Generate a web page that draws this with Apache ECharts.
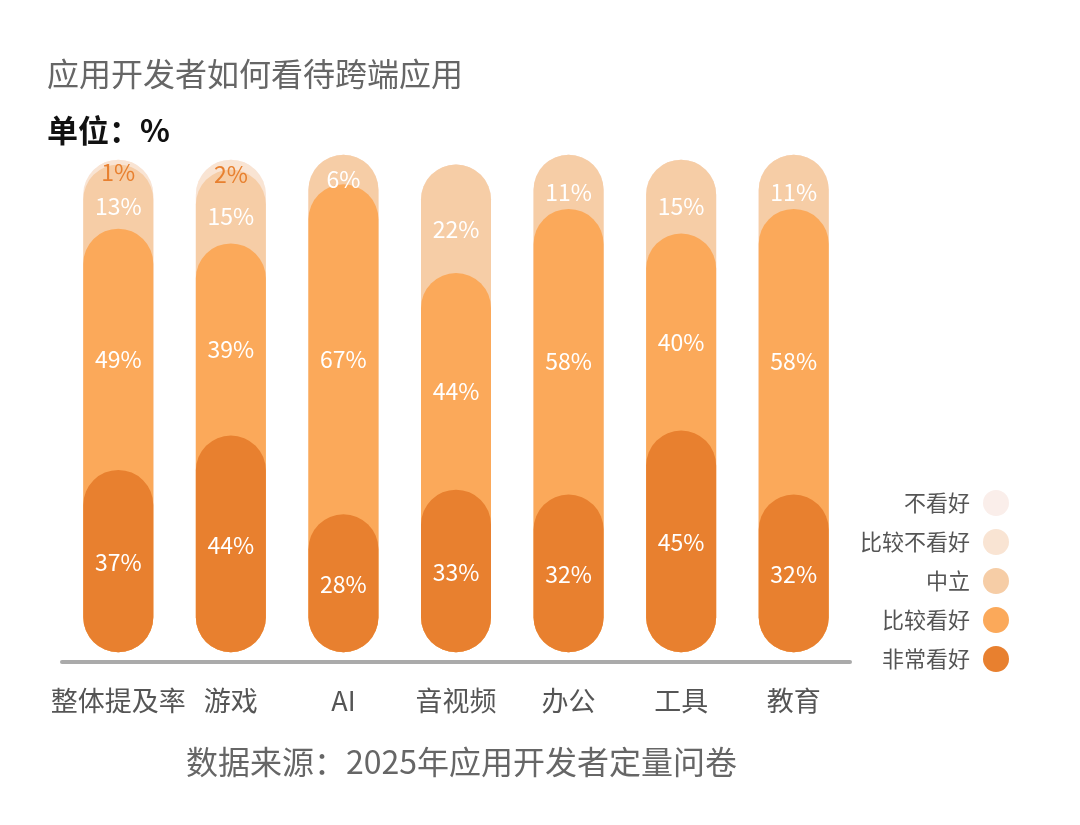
<!DOCTYPE html>
<html>
<head>
<meta charset="utf-8">
<script src="https://cdn.jsdelivr.net/npm/echarts@6/dist/echarts.min.js"></script>
<style>
  html, body { margin: 0; padding: 0; background: #fff; }
  #main { width: 1080px; height: 825px; }
</style>
</head>
<body>
<div id="main"></div>
<script>
// 分类
var categories = ["整体提及率", "游戏", "AI", "音视频", "办公", "工具", "教育"];
// 各档占比（%），从下往上
var veryGood   = [37, 44, 28, 33, 32, 45, 32]; // 非常看好
var good       = [49, 39, 67, 44, 58, 40, 58]; // 比较看好
var neutral    = [13, 15, 6, 22, 11, 15, 11];  // 中立
var ratherBad  = [1, 2, 0, 0, 0, 0, 0];        // 比较不看好
var bad        = [0, 0, 0, 0, 0, 0, 0];        // 不看好

var names  = ["非常看好", "比较看好", "中立", "比较不看好", "不看好"];
var colors = ["#E8802F", "#FBA95A", "#F6CDA6", "#F9E4D3", "#FAEEEA"];
var layers = [veryGood, good, neutral, ratherBad, bad];

var FONT = "Noto Sans CJK SC";

// 累加：每一档画成从 0 到累计值的胶囊，下面的档压在上面
function cumulative(level) {
  return categories.map(function (c, i) {
    var s = 0;
    for (var k = 0; k <= level; k++) s += layers[k][i];
    return s;
  });
}

var series = [];
// 先画最上层（最淡），最后画最底层（最深）
for (var k = layers.length - 1; k >= 0; k--) {
  series.push({
    name: names[k],
    type: "bar",
    barWidth: 70,
    barGap: "-100%",
    z: 2 + (layers.length - k),
    silent: true,
    itemStyle: { color: colors[k], borderRadius: 35 },
    data: cumulative(k)
  });
}
// 透明堆叠柱，只用来放数值标签
layers.forEach(function (arr, k) {
  series.push({
    name: "lbl" + k,
    type: "bar",
    stack: "lbl",
    barWidth: 70,
    barGap: "-100%",
    z: 20,
    silent: true,
    itemStyle: { color: "transparent" },
    label: {
      show: true,
      position: "inside",
      offset: [0, k === 0 ? 1 : 10],
      fontFamily: FONT,
      fontSize: 23,
      color: k === 3 ? "#E8802F" : "#fff",
      formatter: function (p) { return p.value > 0 ? p.value + "%" : ""; }
    },
    data: arr
  });
});

var chart = echarts.init(document.getElementById("main"));
chart.setOption({
  animation: false,
  backgroundColor: "#fff",
  title: [
    {
      text: "应用开发者如何看待跨端应用",
      left: 42, top: 53,
      textStyle: { fontFamily: FONT, fontSize: 32, fontWeight: "normal", color: "#666" }
    },
    {
      text: "单位：%",
      left: 42, top: 110,
      textStyle: { fontFamily: FONT, fontSize: 31, fontWeight: "bold", color: "#111" }
    },
    {
      text: "数据来源：2025年应用开发者定量问卷",
      left: 181, top: 741,
      textStyle: { fontFamily: FONT, fontSize: 32, fontWeight: "normal", color: "#666" }
    }
  ],
  legend: {
    orient: "vertical",
    right: 66, top: 485,
    align: "right",
    icon: "circle",
    itemWidth: 26, itemHeight: 26,
    itemGap: 13,
    data: ["不看好", "比较不看好", "中立", "比较看好", "非常看好"],
    textStyle: { fontFamily: FONT, fontSize: 22, color: "#555", padding: [0, 8, 0, 0] }
  },
  grid: { left: 62, right: 230, top: 140, bottom: 163 },
  xAxis: {
    type: "category",
    data: categories,
    axisTick: { show: false },
    axisLine: { onZero: false, lineStyle: { color: "#AAAAAA", width: 4 } },
    axisLabel: { margin: 25, fontFamily: FONT, fontSize: 27, color: "#555", interval: 0 }
  },
  yAxis: {
    type: "value",
    min: -2, max: 104,
    show: false,
    splitLine: { show: false }
  },
  series: series
});
</script>
</body>
</html>
